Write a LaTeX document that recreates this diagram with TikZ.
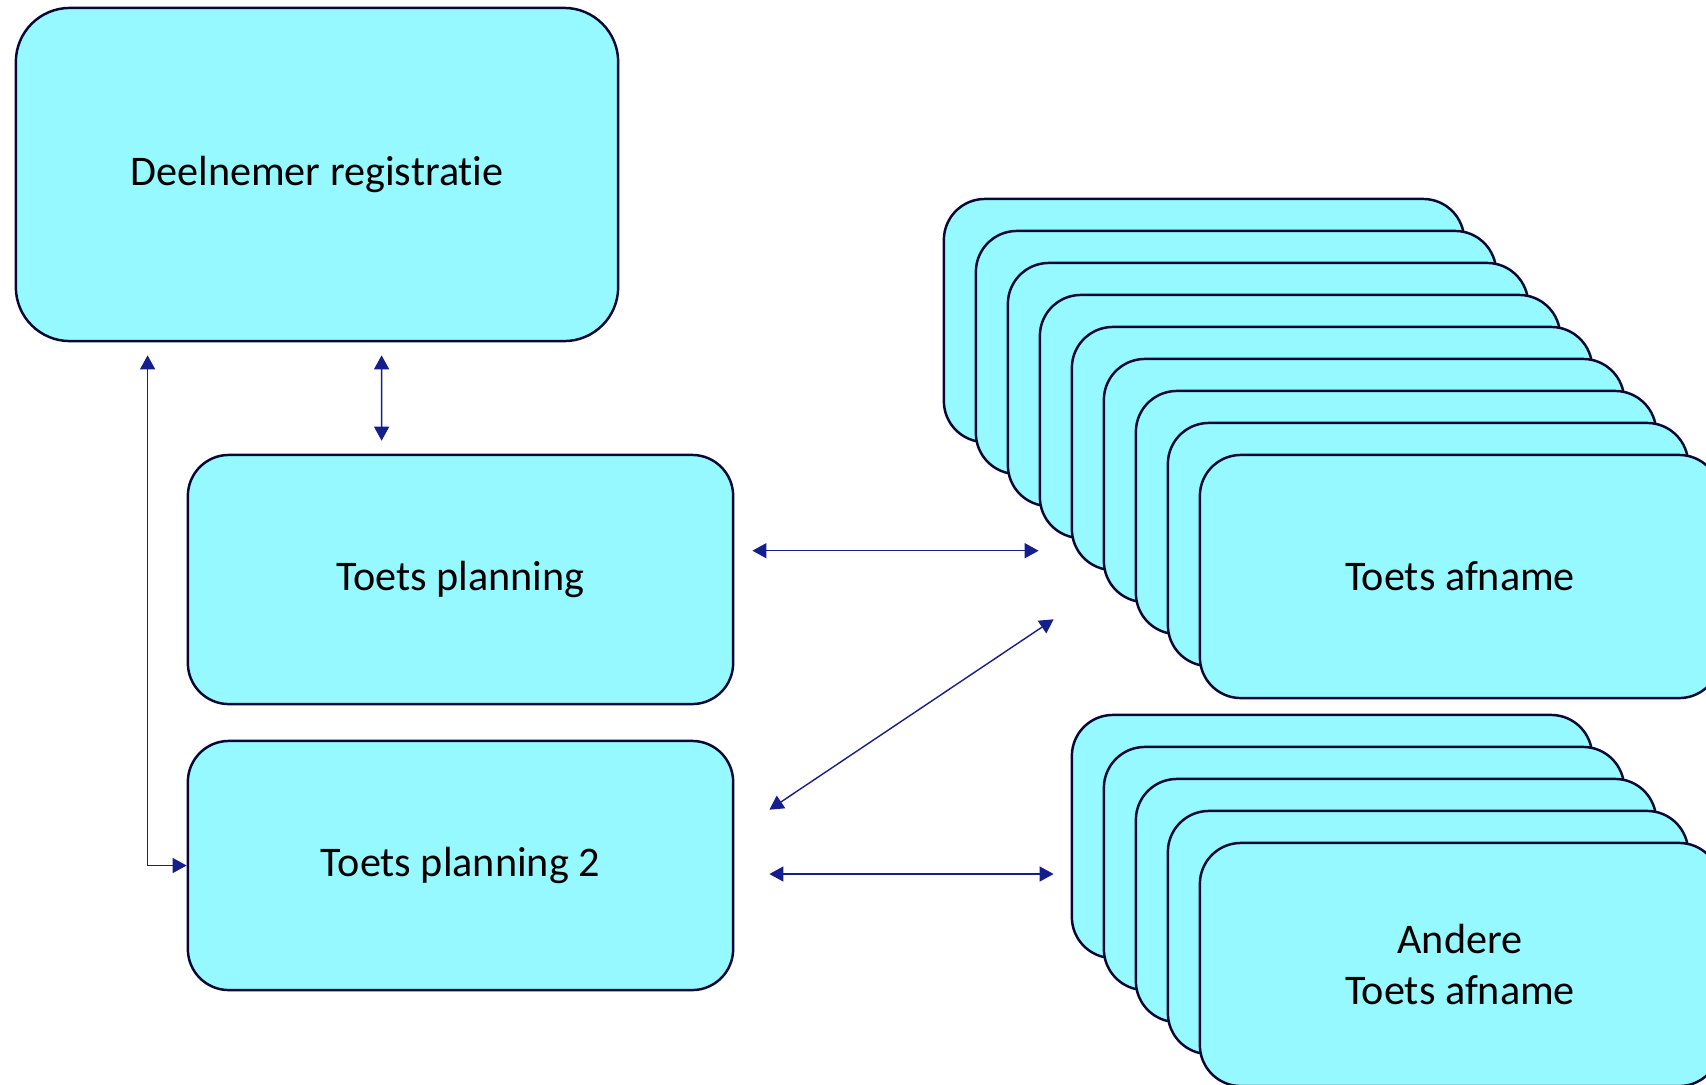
\documentclass[tikz,border=0pt]{standalone}
\usepackage{fontspec}
\setmainfont{Carlito}[Ligatures=NoCommon]
\usetikzlibrary{arrows.meta, calc}

\begin{document}
\begin{tikzpicture}[x=0.01cm, y=-0.01cm,
    blok/.style={draw=randkleur, line width=0.7pt, fill=blokkleur, rounded corners=0.41cm,
        inner sep=0pt, align=center, font=\fontsize{12}{14.5}\selectfont},
    pijl/.style={draw=pijlkleur, line width=0.4pt,
        {Triangle[length=0.14cm,width=0.15cm]}-{Triangle[length=0.14cm,width=0.15cm]}}]
    % Kleuren
    \definecolor{blokkleur}{RGB}{150,249,255}
    \definecolor{randkleur}{RGB}{8,8,56}
    \definecolor{pijlkleur}{RGB}{20,30,140}

    \useasboundingbox (0,0) rectangle (1706,1084);

    % Registratie
    \node[blok, rounded corners=0.54cm, minimum width=6.02cm, minimum height=3.33cm] (deelnemer) at (317,174.5) {Deelnemer registratie};

    % Planning
    \node[blok, minimum width=5.45cm, minimum height=2.49cm] (planning) at (460.5,579.5) {Toets planning};
    \node[blok, minimum width=5.45cm, minimum height=2.49cm] (planning2) at (460.5,865.5) {Toets planning 2};

    % Afnames (stapel)
    \foreach \i in {1,...,8}
        \node[blok, minimum width=5.2cm, minimum height=2.43cm] (afname\i) at ({1204+32*(\i-1)},{320.5+32*(\i-1)}) {};
    \node[blok, minimum width=5.2cm, minimum height=2.43cm] (afname9) at (1460,576.5) {Toets afname};

    % Andere afnames (stapel)
    \foreach \i in {1,...,4}
        \node[blok, minimum width=5.2cm, minimum height=2.43cm] (andere\i) at ({1332+32*(\i-1)},{836.5+32*(\i-1)}) {};
    \node[blok, minimum width=5.2cm, minimum height=2.43cm] (andere5) at (1460,964.5) {Andere\\Toets afname};

    % Verbindingen
    \coordinate (h1) at ($(planning.north east)+(18,97)$);
    \coordinate (h2) at ($(planning2.east)+(35,8.5)$);
    \draw[pijl] ($(planning.north west)+(195,-13)$) -- ($(deelnemer.south west)+(367,13)$);
    \draw[pijl] ($(deelnemer.south west)+(133,13)$) |- (planning2.west);
    \draw[pijl] (h1) -- (h1 -| afname4.south west);
    \draw[pijl] ($(planning2.north east)+(35,70)$) -- ($(afname5.south west)+(-17,48)$);
    \draw[pijl] (h2) -- ($(h2 -| andere1.west)+(-17,0)$);

\end{tikzpicture}
\end{document}
